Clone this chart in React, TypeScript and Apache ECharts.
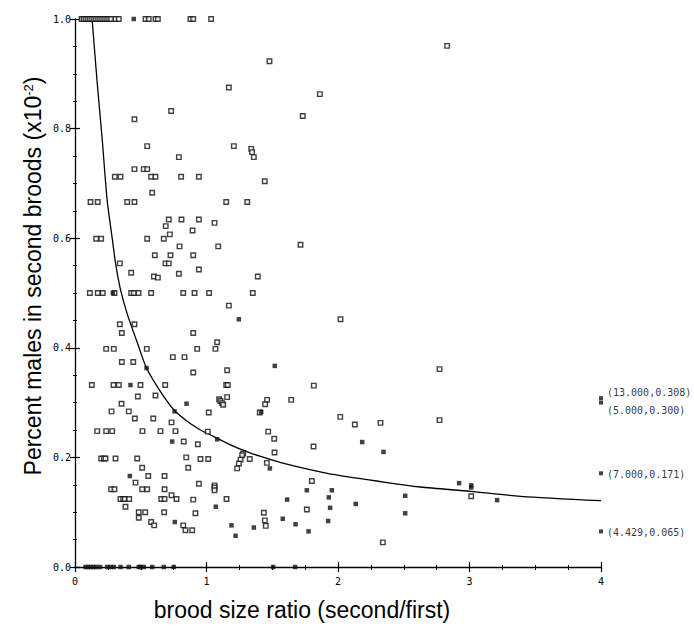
import React, { useEffect, useRef } from "react";
import * as echarts from "echarts";

const xTicks = [0, 1, 2, 3, 4];
const yTicks = [0, 0.2, 0.4, 0.6, 0.8, 1.0];

const openPoints: number[][] = [
  [0.05, 1], [0.065, 1], [0.08, 1], [0.095, 1], [0.11, 1], [0.125, 1], [0.14, 1], [0.155, 1],
  [0.17, 1], [0.185, 1], [0.2, 1], [0.215, 1], [0.23, 1], [0.245, 1], [0.26, 1], [0.275, 1],
  [0.308, 1], [0.333, 1], [0.536, 1], [0.561, 1], [0.612, 1], [0.63, 1], [0.878, 1], [0.899, 1], [1.035, 1],
  [1.17, 0.875], [0.731, 0.832], [0.452, 0.817], [0.549, 0.768], [1.208, 0.768], [1.34, 0.763], [1.347, 0.757],
  [1.36, 0.748], [0.79, 0.748], [0.452, 0.726], [0.523, 0.726], [0.549, 0.726], [0.303, 0.712], [0.346, 0.712],
  [0.579, 0.712], [0.612, 0.712], [0.807, 0.712], [0.942, 0.712], [0.587, 0.683], [0.118, 0.666], [0.173, 0.666],
  [0.397, 0.666], [0.452, 0.666], [1.15, 0.666], [1.31, 0.666], [0.713, 0.634], [0.81, 0.634], [0.942, 0.634],
  [1.061, 0.628], [0.69, 0.622], [0.894, 0.614], [0.721, 0.607], [0.161, 0.599], [0.199, 0.599], [0.549, 0.599],
  [0.675, 0.599], [0.795, 0.585], [1.089, 0.585], [0.607, 0.569], [0.726, 0.569], [0.899, 0.569], [0.688, 0.554],
  [0.713, 0.554], [0.341, 0.554], [0.427, 0.537], [0.79, 0.535], [0.942, 0.543], [0.6, 0.53], [0.63, 0.528], [1.39, 0.53],
  [0.113, 0.5], [0.173, 0.5], [0.211, 0.5], [0.3, 0.5], [0.427, 0.5], [0.447, 0.5], [0.483, 0.5], [0.579, 0.5],
  [0.823, 0.5], [0.909, 0.5], [1.02, 0.5], [1.352, 0.5],
  [1.17, 0.477], [0.341, 0.443], [0.452, 0.443], [0.356, 0.427], [0.899, 0.427], [1.081, 0.41], [0.237, 0.398],
  [0.295, 0.398], [0.546, 0.398], [0.929, 0.398], [1.068, 0.398], [0.356, 0.374], [0.443, 0.374], [0.744, 0.383],
  [0.833, 0.383], [0.899, 0.355], [1.157, 0.359], [0.128, 0.332], [0.293, 0.332], [0.333, 0.332], [0.498, 0.332],
  [0.686, 0.332], [1.15, 0.332], [1.162, 0.332], [0.612, 0.313], [0.478, 0.311], [1.157, 0.31], [1.096, 0.306],
  [1.106, 0.303], [1.119, 0.299], [1.127, 0.296], [0.354, 0.298], [0.278, 0.284], [0.409, 0.284], [1.017, 0.282],
  [0.455, 0.271], [0.595, 0.271], [0.734, 0.264], [1.405, 0.282],
  [0.169, 0.248], [0.237, 0.248], [0.283, 0.248], [0.513, 0.248], [0.65, 0.248], [0.764, 0.248], [1.01, 0.247],
  [0.827, 0.229], [0.934, 0.224], [1.279, 0.207], [1.271, 0.204], [1.259, 0.196], [1.246, 0.189], [1.233, 0.18],
  [1.329, 0.197], [0.199, 0.198], [0.219, 0.198], [0.232, 0.198], [0.308, 0.198], [0.473, 0.198], [0.846, 0.2],
  [0.954, 0.197], [1.013, 0.197], [0.511, 0.181], [0.861, 0.181], [0.557, 0.166], [0.681, 0.166], [0.46, 0.154],
  [0.942, 0.152], [1.061, 0.149], [1.061, 0.145], [1.061, 0.14], [0.275, 0.142], [0.3, 0.142], [0.511, 0.142],
  [0.549, 0.142], [0.681, 0.142], [0.734, 0.131], [0.346, 0.124], [0.367, 0.124], [0.379, 0.124], [0.412, 0.124],
  [0.656, 0.124], [0.681, 0.124], [0.772, 0.124], [0.899, 0.123], [1.152, 0.124], [0.384, 0.11], [0.485, 0.1],
  [0.534, 0.1], [0.485, 0.09], [0.678, 0.1], [0.916, 0.098], [0.579, 0.082], [0.602, 0.076], [0.823, 0.076],
  [0.84, 0.067], [0.891, 0.067],
  [2.019, 0.452], [1.816, 0.331], [2.772, 0.361], [1.461, 0.305], [1.446, 0.297], [1.644, 0.305], [1.469, 0.247],
  [1.515, 0.234], [1.517, 0.209], [1.814, 0.22], [2.017, 0.274], [2.128, 0.26], [2.323, 0.263], [2.772, 0.268],
  [1.459, 0.19], [1.801, 0.157], [1.436, 0.099], [1.444, 0.085], [1.451, 0.075], [1.763, 0.105], [3.013, 0.129],
  [2.341, 0.045],
  [2.83, 0.951], [1.479, 0.923], [1.862, 0.863], [1.732, 0.823], [1.443, 0.704], [1.715, 0.588],
];

const filledPoints: number[][] = [
  [0.447, 1], [0.288, 0.5],
  [1.246, 0.452], [0.544, 0.363], [0.422, 0.332], [0.848, 0.298], [0.757, 0.284],
  [1.081, 0.233], [0.739, 0.229], [0.417, 0.166], [1.071, 0.11], [0.759, 0.082], [1.19, 0.076], [1.221, 0.057],
  [1.36, 0.072],
  [1.519, 0.367], [1.416, 0.283], [2.184, 0.228], [2.346, 0.21], [1.482, 0.18], [1.763, 0.14], [1.953, 0.14],
  [1.93, 0.127], [1.613, 0.123], [1.58, 0.088], [1.677, 0.078], [1.776, 0.065], [1.94, 0.108], [1.925, 0.084],
  [2.135, 0.115], [2.511, 0.13], [2.511, 0.098], [2.921, 0.153], [3.013, 0.149], [3.013, 0.145], [3.21, 0.122],
  // zero row
  [0.08, 0], [0.1, 0], [0.12, 0], [0.14, 0], [0.16, 0], [0.19, 0], [0.245, 0], [0.27, 0], [0.295, 0], [0.346, 0],
  [0.409, 0], [0.485, 0], [0.498, 0], [0.523, 0], [0.587, 0], [0.675, 0], [0.751, 0], [1.507, 0], [1.674, 0],
];

const curveX = [0.13, 0.17, 0.207, 0.245, 0.283, 0.308, 0.346, 0.397, 0.473, 0.544, 0.65, 0.751, 0.853, 0.954,
  1.005, 1.208, 1.335, 1.411, 1.588, 1.918, 2.348, 2.627, 3.008, 3.388, 4.0];
const curveY = [1.0, 0.88, 0.78, 0.668, 0.6, 0.555, 0.506, 0.462, 0.41, 0.363, 0.32, 0.287, 0.266, 0.25,
  0.244, 0.22, 0.208, 0.202, 0.189, 0.171, 0.155, 0.146, 0.138, 0.129, 0.121];

const offScaleY = [0.308, 0.3, 0.171, 0.065];
const offScaleLabels = ["(13.000,0.308)", "(5.000,0.300)", "(7.000,0.171)", "(4.429,0.065)"];

export default function App() {
  const ref = useRef<HTMLDivElement>(null);
  useEffect(() => {
    if (!ref.current) return;
    const chart = echarts.init(ref.current, null, { renderer: "svg" });
    const tickFont = { fontFamily: "DejaVu Sans Mono", fontSize: 10, color: "#000" };
    const labelOffsets = [[0, -6], [0, 8], [0, 1], [0, 1]];
    chart.setOption({
      animation: false,
      backgroundColor: "#fff",
      grid: { left: 75, right: 93, top: 19, bottom: 59 },
      xAxis: [
        {
          type: "value", min: xTicks[0], max: xTicks[xTicks.length - 1], interval: 1,
          axisLine: { show: true, lineStyle: { color: "#000", width: 1.3 } },
          axisTick: { show: true, inside: false, length: 5, lineStyle: { color: "#000", width: 1.2 } },
          minorTick: { show: true, splitNumber: 4, length: 3, lineStyle: { color: "#000", width: 1 } },
          axisLabel: { ...tickFont, margin: 9, formatter: (v: number) => String(v) },
          splitLine: { show: false },
        },
        {
          type: "value", min: xTicks[0], max: xTicks[xTicks.length - 1], interval: 1, position: "bottom",
          axisLine: { show: false },
          axisTick: { show: true, inside: true, length: 5, lineStyle: { color: "#000", width: 1.2 } },
          minorTick: { show: true, splitNumber: 4, length: 2, lineStyle: { color: "#000", width: 1 } },
          axisLabel: { show: false },
          splitLine: { show: false },
        },
      ],
      yAxis: [
        {
          type: "value", min: yTicks[0], max: yTicks[yTicks.length - 1], interval: 0.2,
          axisLine: { show: true, lineStyle: { color: "#000", width: 1.3 } },
          axisTick: { show: true, inside: false, length: 5, lineStyle: { color: "#000", width: 1.2 } },
          minorTick: { show: true, splitNumber: 4, length: 2, lineStyle: { color: "#000", width: 1 } },
          axisLabel: { ...tickFont, margin: 4, formatter: (v: number) => v.toFixed(1) },
          splitLine: { show: false },
        },
        {
          type: "value", min: yTicks[0], max: yTicks[yTicks.length - 1], interval: 0.2, position: "left",
          axisLine: { show: false },
          axisTick: { show: true, inside: true, length: 5, lineStyle: { color: "#000", width: 1.2 } },
          minorTick: { show: true, splitNumber: 4, length: 2, lineStyle: { color: "#000", width: 1 } },
          axisLabel: { show: false },
          splitLine: { show: false },
        },
      ],
      series: [
        {
          type: "line",
          data: curveX.map((x, i) => [x, curveY[i]]),
          smooth: 0.25,
          showSymbol: false,
          lineStyle: { color: "#000", width: 1.3 },
          z: 3,
        },
        {
          type: "scatter",
          data: openPoints,
          symbol: "rect",
          symbolSize: 4.5,
          itemStyle: { color: "#fff", borderColor: "#111", borderWidth: 1.4 },
          clip: false,
          z: 4,
        },
        {
          type: "scatter",
          data: filledPoints,
          symbol: "rect",
          symbolSize: 4.5,
          itemStyle: { color: "#111" },
          clip: false,
          z: 4,
        },
        {
          type: "scatter",
          data: offScaleY.map((y, i) => ({
            value: [4, y],
            label: {
              show: true, position: "right", formatter: offScaleLabels[i], offset: labelOffsets[i],
              fontFamily: "DejaVu Sans Mono", fontSize: 10, color: "#000", distance: 4,
            },
          })),
          symbol: "rect",
          symbolSize: 4,
          itemStyle: { color: "#111" },
          clip: false,
          z: 4,
        },
      ],
      graphic: [
        {
          type: "text",
          x: 33, y: 276,
          rotation: Math.PI / 2,
          style: {
            text: "Percent males in second broods (x10{sup|-2})",
            fontFamily: "Liberation Sans", fontSize: 23, fill: "#000",
            align: "center", verticalAlign: "middle",
            rich: {
              sup: { fontFamily: "Liberation Sans", fontSize: 13, verticalAlign: "top", fill: "#000" },
            },
          },
        },
        {
          type: "text",
          x: 302, y: 610,
          style: {
            text: "brood size ratio (second/first)",
            fontFamily: "Liberation Sans", fontSize: 23, fill: "#000",
            align: "center", verticalAlign: "middle",
          },
        },
      ],
    });
    return () => chart.dispose();
  }, []);
  return <div ref={ref} style={{ position: "fixed", left: 0, top: 0, width: 694, height: 626 }} />;
}
